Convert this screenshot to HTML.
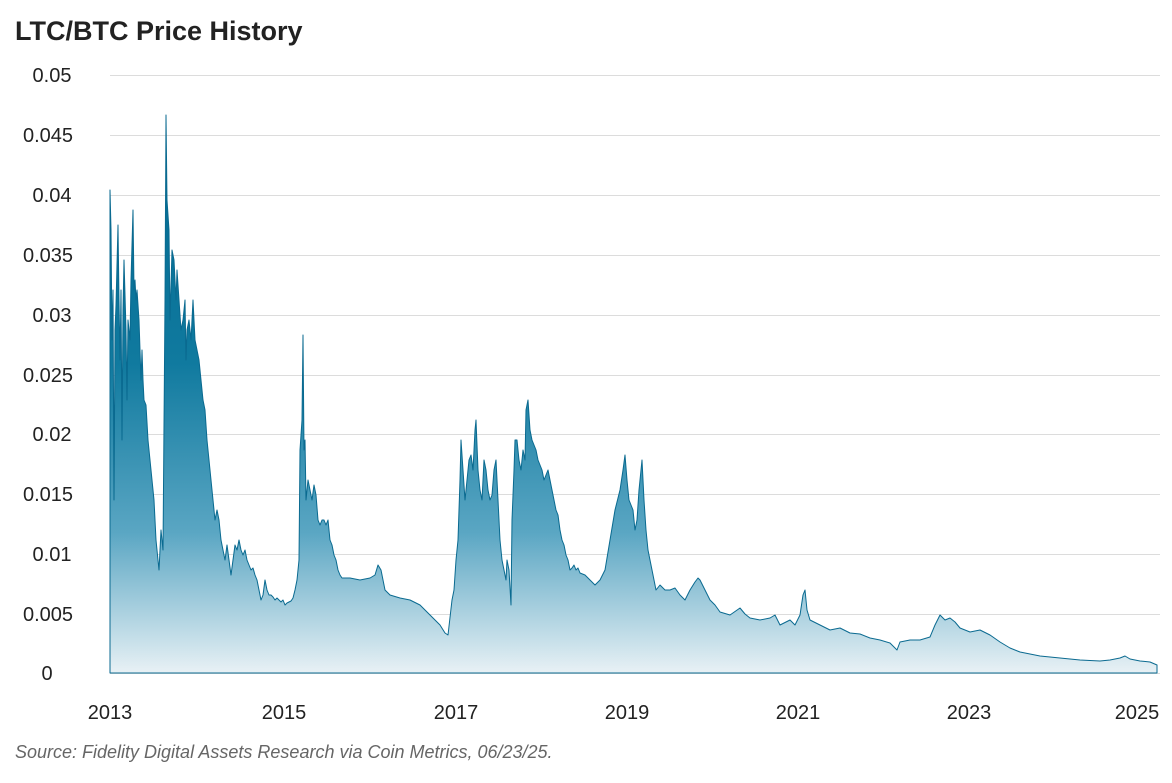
<!DOCTYPE html>
<html><head><meta charset="utf-8"><style>
body{margin:0;background:#fff;width:1172px;height:778px;overflow:hidden;font-family:"Liberation Sans",sans-serif;}
</style></head><body>
<svg width="1172" height="778" xmlns="http://www.w3.org/2000/svg">
<defs><linearGradient id="g" x1="0" y1="110" x2="0" y2="673" gradientUnits="userSpaceOnUse">
<stop offset="0" stop-color="#00678f"/><stop offset="0.45" stop-color="#107a9f"/><stop offset="0.75" stop-color="#5aa6c3"/><stop offset="1" stop-color="#e8f1f5"/></linearGradient></defs>
<text x="15" y="40" font-size="27" font-weight="bold" fill="#222">LTC/BTC Price History</text>
<g stroke="#dcdcdc" stroke-width="1">
<line x1="110" x2="1160" y1="75.5" y2="75.5"/><line x1="110" x2="1160" y1="135.5" y2="135.5"/><line x1="110" x2="1160" y1="195.5" y2="195.5"/><line x1="110" x2="1160" y1="255.5" y2="255.5"/><line x1="110" x2="1160" y1="315.5" y2="315.5"/><line x1="110" x2="1160" y1="375.5" y2="375.5"/><line x1="110" x2="1160" y1="434.5" y2="434.5"/><line x1="110" x2="1160" y1="494.5" y2="494.5"/><line x1="110" x2="1160" y1="554.5" y2="554.5"/><line x1="110" x2="1160" y1="614.5" y2="614.5"/><line x1="110" x2="1160" y1="673.5" y2="673.5"/>
</g>
<g font-size="20" fill="#222" text-anchor="middle">
<text x="52" y="82">0.05</text><text x="48" y="142">0.045</text><text x="52" y="202">0.04</text><text x="48" y="262">0.035</text><text x="52" y="322">0.03</text><text x="48" y="382">0.025</text><text x="52" y="441">0.02</text><text x="48" y="501">0.015</text><text x="52" y="561">0.01</text><text x="48" y="621">0.005</text><text x="47" y="680">0</text>
<text x="110" y="719">2013</text><text x="284" y="719">2015</text><text x="456" y="719">2017</text><text x="627" y="719">2019</text><text x="798" y="719">2021</text><text x="969" y="719">2023</text><text x="1137" y="719">2025</text>
</g>
<polygon fill="url(#g)" stroke="#0a6a90" stroke-width="1" stroke-linejoin="round" points="110,673 110,190 111,230 112,340 113,290 114,500 115,330 116,305 118,225 119,300 120,360 121,290 122,440 123,310 124,260 126,330 127,400 128,320 130,340 131,280 133,210 134,290 135,280 136,300 137,290 139,320 141,380 142,350 143,380 144,400 146,405 148,440 150,460 152,480 154,500 156,540 158,560 159,570 161,530 163,550 165,300 166,115 167,200 169,230 170,320 172,250 174,260 176,300 177,270 179,300 181,330 183,320 185,300 186,360 187,330 189,320 191,340 193,300 195,340 197,350 199,360 201,380 203,400 205,410 207,440 209,460 211,480 213,500 215,520 217,510 219,520 221,540 223,550 225,560 227,545 229,560 231,575 233,560 235,545 237,550 239,540 241,550 243,555 245,550 247,560 249,565 251,570 253,568 255,575 257,580 259,590 261,600 263,595 265,580 267,590 269,595 271,595 273,597 275,600 277,598 279,600 281,602 283,600 285,605 287,603 289,602 291,601 293,598 295,590 297,580 299,560 300,450 302,420 303,335 304,450 305,440 306,500 308,480 310,490 312,500 314,485 316,495 318,520 320,525 322,520 324,520 326,525 328,520 330,540 332,545 334,555 336,560 338,570 340,575 342,578 350,578 360,580 370,578 375,575 378,565 381,570 385,590 390,595 400,598 410,600 420,605 425,610 430,615 435,620 440,625 445,633 448,635 452,600 454,590 456,560 458,540 460,480 461,440 463,470 465,500 467,480 469,460 471,455 473,470 475,430 476,420 478,470 480,490 482,500 484,460 486,470 488,490 490,500 492,495 494,470 496,460 498,500 500,540 502,560 504,570 506,580 507,560 509,570 511,605 512,520 514,470 515,440 517,440 519,460 521,470 523,450 525,460 526,410 528,400 530,430 532,440 534,445 536,450 538,460 540,465 542,470 544,480 546,475 548,470 550,480 552,490 554,500 556,510 558,515 560,530 562,540 564,545 566,555 568,560 570,570 572,568 574,565 576,570 578,568 580,573 585,575 590,580 595,585 600,580 605,570 610,540 615,510 620,490 623,470 625,455 627,480 629,500 631,505 633,510 635,530 637,520 639,490 641,470 642,460 644,500 646,530 648,550 650,560 652,570 654,580 656,590 660,585 665,590 670,590 675,588 680,595 685,600 690,590 695,582 698,578 700,580 705,590 710,600 715,605 720,612 730,615 740,608 745,614 750,618 760,620 770,618 775,615 780,625 790,620 795,625 800,615 803,595 805,590 807,610 810,620 820,625 830,630 840,628 850,633 860,634 870,638 880,640 890,643 897,650 900,642 910,640 920,640 930,637 935,625 940,615 945,620 950,618 955,622 960,628 970,632 980,630 990,635 1000,642 1010,648 1020,652 1040,656 1060,658 1080,660 1100,661 1110,660 1120,658 1125,656 1130,659 1140,661 1150,662 1157,665 1157,673"/>
<text x="15" y="758" font-size="18" font-style="italic" fill="#666">Source: Fidelity Digital Assets Research via Coin Metrics, 06/23/25.</text>
</svg>
</body></html>
